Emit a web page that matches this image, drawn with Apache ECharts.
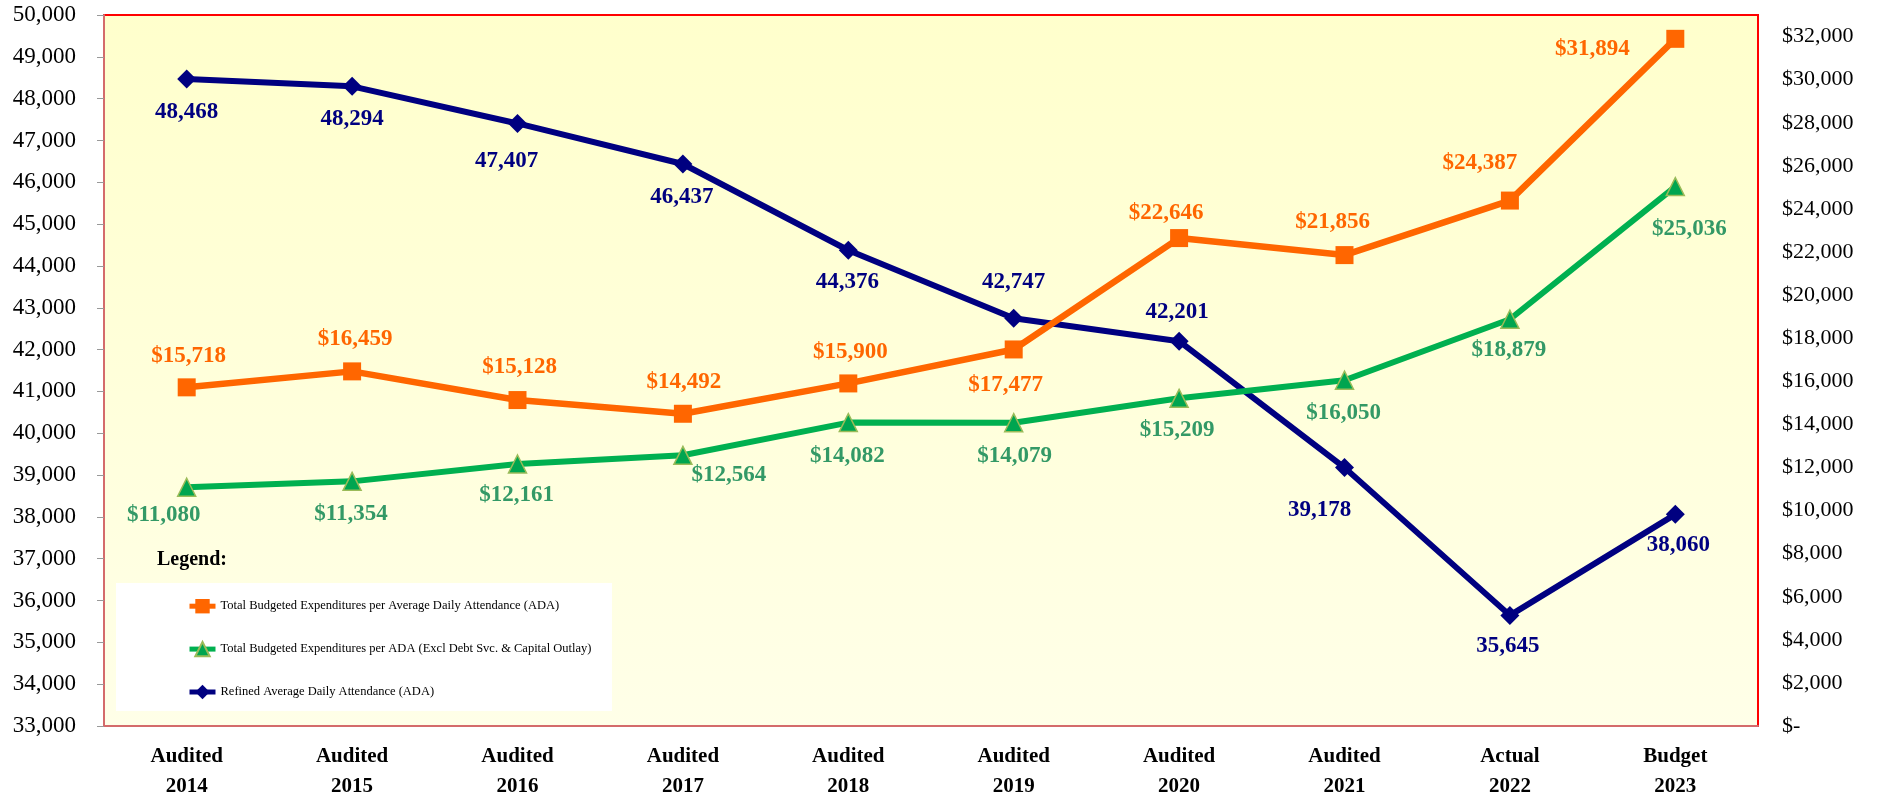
<!DOCTYPE html>
<html>
<head>
<meta charset="utf-8">
<script src="https://cdn.jsdelivr.net/npm/echarts@6/dist/echarts.min.js"></script>
<style>
html,body{margin:0;padding:0;background:#fff;}
#chart{width:1877px;height:802px;}
</style>
</head>
<body>
<div id="chart"></div>
<script>
const categories = ['Audited\n2014','Audited\n2015','Audited\n2016','Audited\n2017','Audited\n2018','Audited\n2019','Audited\n2020','Audited\n2021','Actual\n2022','Budget\n2023'];
const totalPerADA = [15718, 16459, 15128, 14492, 15900, 17477, 22646, 21856, 24387, 31894];
const exclDebtPerADA = [11080, 11354, 12161, 12564, 14082, 14079, 15209, 16050, 18879, 25036];
const refinedADA = [48468, 48294, 47407, 46437, 44376, 42747, 42201, 39178, 35645, 38060];
const leftAxisMin = 33000, leftAxisMax = 50000, leftAxisStep = 1000;
const rightAxisMin = 0, rightAxisMax = 33000, rightAxisStep = 2000;
const seriesNames = [
  'Total Budgeted Expenditures per Average Daily Attendance (ADA)',
  'Total Budgeted Expenditures per ADA (Excl Debt Svc. & Capital Outlay)',
  'Refined Average Daily Attendance (ADA)'
];

// label placement (pixel offsets from each point), styling only
const orangeOff = [[2,-31],[3,-32],[2,-33],[1,-32],[2,-31],[-8,36],[-13,-25],[-12,-33],[-30,-38],[-83,10]];
const greenOff  = [[-23,28],[-1,33],[-1,31],[46,20],[-1,33],[1,33],[-2,32],[-1,33],[-1,31],[14,42]];
const navyOff   = [[0,33],[0,33],[-11,38],[-1,33],[-1,32],[0,-36],[-2,-29],[-25,42],[-2,31],[3,31]];

const SERIF = "'Liberation Serif','Times New Roman',serif";
const fmt = v => Number(v).toLocaleString('en-US');

function withLabels(values, offs) {
  return values.map((v, i) => ({ value: v, label: { offset: offs[i] } }));
}

const chart = echarts.init(document.getElementById('chart'));
chart.setOption({
  animation: false,
  backgroundColor: '#ffffff',
  title: {
    text: 'Legend:', left: 157, top: 550, padding: 0,
    textStyle: { fontFamily: SERIF, fontSize: 20, fontWeight: 'bold', color: '#000' }
  },
  graphic: [{
    type: 'rect', z: 1, left: 116, top: 583,
    shape: { width: 496, height: 128 },
    style: { fill: '#ffffff' }
  }],
  legend: {
    orient: 'vertical', left: 187, top: 599, padding: 0,
    itemWidth: 26, itemHeight: 18, itemGap: 27.5,
    data: seriesNames,
    lineStyle: { width: 5 },
    textStyle: { fontFamily: SERIF, fontSize: 12.5, color: '#000' }
  },
  grid: {
    left: 104, right: 119, top: 15, bottom: 75,
    show: true, borderColor: '#FF0000', borderWidth: 2,
    backgroundColor: { type: 'linear', x: 0, y: 0, x2: 0, y2: 1,
      colorStops: [{ offset: 0, color: '#FFFFCC' }, { offset: 1, color: '#FFFFE8' }] }
  },
  xAxis: {
    type: 'category', data: categories, boundaryGap: true,
    axisLine: { show: true, lineStyle: { color: '#D46B6B', width: 2 } },
    axisTick: { show: false },
    splitLine: { show: false },
    axisLabel: { interval: 0, margin: 16, fontFamily: SERIF, fontSize: 21, fontWeight: 'bold', lineHeight: 30, color: '#000' }
  },
  yAxis: [{
    type: 'value', position: 'left', min: leftAxisMin, max: leftAxisMax, interval: leftAxisStep,
    axisLine: { show: true, lineStyle: { color: '#D46B6B', width: 2 } },
    axisTick: { show: true, length: 7, lineStyle: { color: '#999' } },
    splitLine: { show: false },
    axisLabel: { margin: 28, fontFamily: SERIF, fontSize: 23, color: '#000', formatter: v => fmt(v) }
  }, {
    type: 'value', position: 'right', min: rightAxisMin, max: rightAxisMax, interval: rightAxisStep,
    axisLine: { show: false }, axisTick: { show: false }, splitLine: { show: false },
    axisLabel: { margin: 24, fontFamily: SERIF, fontSize: 22, color: '#000', showMaxLabel: false,
      formatter: v => v === 0 ? '$-' : '$' + fmt(v) }
  }],
  series: [{
    name: seriesNames[2], type: 'line', yAxisIndex: 0, z: 3,
    data: withLabels(refinedADA, navyOff),
    symbol: 'diamond', symbolSize: 19,
    lineStyle: { color: '#000080', width: 6 },
    itemStyle: { color: '#000080' },
    label: { show: true, position: 'inside', formatter: p => fmt(p.value),
      fontFamily: SERIF, fontSize: 23, fontWeight: 'bold', color: '#000080' }
  }, {
    name: seriesNames[0], type: 'line', yAxisIndex: 1, z: 4,
    data: withLabels(totalPerADA, orangeOff),
    symbol: 'rect', symbolSize: 18,
    lineStyle: { color: '#FF6600', width: 6.5 },
    itemStyle: { color: '#FF6600' },
    label: { show: true, position: 'inside', formatter: p => '$' + fmt(p.value),
      fontFamily: SERIF, fontSize: 23, fontWeight: 'bold', color: '#FF6600' }
  }, {
    name: seriesNames[1], type: 'line', yAxisIndex: 1, z: 5,
    data: withLabels(exclDebtPerADA, greenOff),
    symbol: 'triangle', symbolSize: 18,
    lineStyle: { color: '#00B050', width: 6 },
    itemStyle: { color: '#00A550', borderColor: '#9BBB59', borderWidth: 1.5 },
    label: { show: true, position: 'inside', formatter: p => '$' + fmt(p.value),
      fontFamily: SERIF, fontSize: 23, fontWeight: 'bold', color: '#339966' }
  }]
});
</script>
</body>
</html>
